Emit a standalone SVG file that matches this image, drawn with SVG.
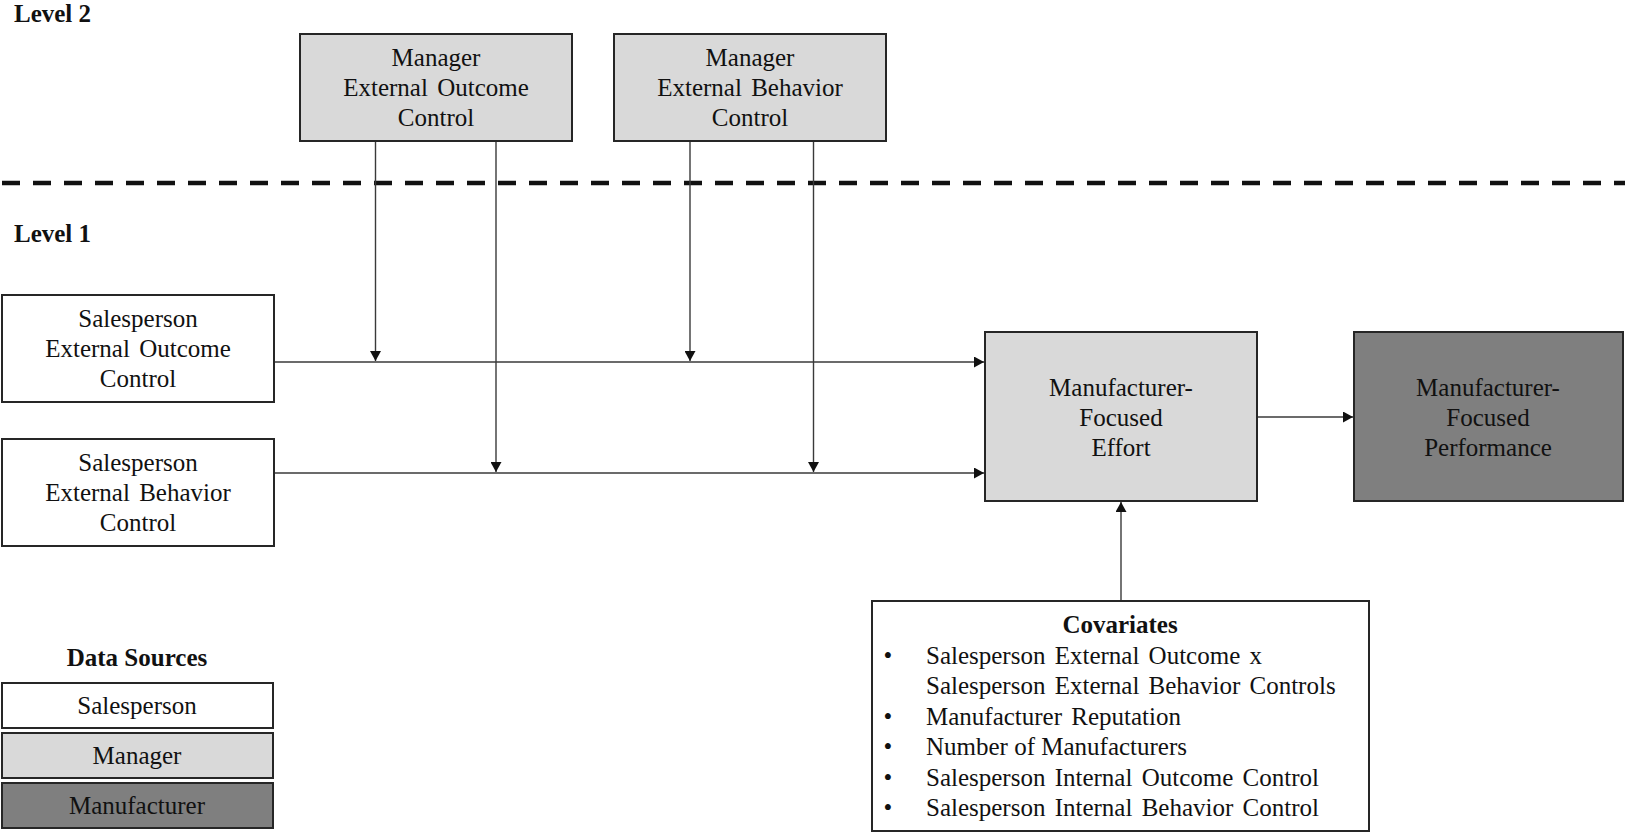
<svg xmlns="http://www.w3.org/2000/svg" width="1625" height="833" viewBox="0 0 1625 833">
<style>
text{font-family:"Liberation Serif","Times New Roman",serif;font-size:25px;fill:#111}
.b{font-weight:bold}
.c{text-anchor:middle}
.box{stroke:#262626;stroke-width:2}
.w{fill:#ffffff}
.g{fill:#d9d9d9}
.d{fill:#7f7f7f}
.con line{stroke:#3a3a3a;stroke-width:1.4;fill:none}
.ws{word-spacing:3px}
</style>
<defs>
<marker id="ah" markerUnits="userSpaceOnUse" markerWidth="11" markerHeight="11" refX="10" refY="5.5" orient="auto">
<path d="M0,0 L10,5.5 L0,11 z" fill="#111"/>
</marker>
</defs>
<rect width="1625" height="833" fill="#ffffff"/>

<text class="b" x="14" y="22">Level 2</text>
<text class="b" x="14" y="242">Level 1</text>
<line x1="2" y1="183" x2="1625" y2="183" stroke="#111" stroke-width="4.5" stroke-dasharray="18 13"/>

<g class="con">
<line x1="375.5" y1="141" x2="375.5" y2="361" marker-end="url(#ah)"/>
<line x1="496" y1="141" x2="496" y2="472" marker-end="url(#ah)"/>
<line x1="690" y1="141" x2="690" y2="361" marker-end="url(#ah)"/>
<line x1="813.5" y1="141" x2="813.5" y2="472" marker-end="url(#ah)"/>
<line x1="274" y1="362" x2="984" y2="362" marker-end="url(#ah)"/>
<line x1="274" y1="473" x2="984" y2="473" marker-end="url(#ah)"/>
<line x1="1258" y1="417" x2="1353" y2="417" marker-end="url(#ah)"/>
<line x1="1121" y1="601" x2="1121" y2="502" marker-end="url(#ah)"/>
</g>

<g id="mgr-outcome">
<rect class="box g" x="300" y="34" width="272" height="107"/>
<text class="c" x="436" y="66">Manager</text>
<text class="c ws" x="436" y="96">External Outcome</text>
<text class="c" x="436" y="126">Control</text>
</g>
<g id="mgr-behavior">
<rect class="box g" x="614" y="34" width="272" height="107"/>
<text class="c" x="750" y="66">Manager</text>
<text class="c ws" x="750" y="96">External Behavior</text>
<text class="c" x="750" y="126">Control</text>
</g>
<g id="sp-outcome">
<rect class="box w" x="2" y="295" width="272" height="107"/>
<text class="c" x="138" y="327">Salesperson</text>
<text class="c ws" x="138" y="357">External Outcome</text>
<text class="c" x="138" y="387">Control</text>
</g>
<g id="sp-behavior">
<rect class="box w" x="2" y="439" width="272" height="107"/>
<text class="c" x="138" y="471">Salesperson</text>
<text class="c ws" x="138" y="501">External Behavior</text>
<text class="c" x="138" y="531">Control</text>
</g>
<g id="effort">
<rect class="box g" x="985" y="332" width="272" height="169"/>
<text class="c" x="1121" y="396">Manufacturer-</text>
<text class="c" x="1121" y="426">Focused</text>
<text class="c" x="1121" y="456">Effort</text>
</g>
<g id="performance">
<rect class="box d" x="1354" y="332" width="269" height="169"/>
<text class="c" x="1488" y="396">Manufacturer-</text>
<text class="c" x="1488" y="426">Focused</text>
<text class="c" x="1488" y="456">Performance</text>
</g>
<g id="covariates">
<rect class="box w" x="872" y="601" width="497" height="230"/>
<text class="c b" x="1120" y="633">Covariates</text>
<text class="c" x="888" y="664">•</text>
<text class="ws" x="926" y="664">Salesperson External Outcome x</text>
<text class="ws" x="926" y="694">Salesperson External Behavior Controls</text>
<text class="c" x="888" y="725">•</text>
<text class="ws" x="926" y="725">Manufacturer Reputation</text>
<text class="c" x="888" y="755">•</text>
<text x="926" y="755">Number of Manufacturers</text>
<text class="c" x="888" y="786">•</text>
<text class="ws" x="926" y="786">Salesperson Internal Outcome Control</text>
<text class="c" x="888" y="816">•</text>
<text class="ws" x="926" y="816">Salesperson Internal Behavior Control</text>
</g>
<g id="legend">
<text class="c b" x="137" y="666">Data Sources</text>
<g id="legend-salesperson">
<rect class="box w" x="2" y="683" width="271" height="45"/>
<text class="c" x="137" y="714">Salesperson</text>
</g>
<g id="legend-manager">
<rect class="box g" x="2" y="733" width="271" height="45"/>
<text class="c" x="137" y="764">Manager</text>
</g>
<g id="legend-manufacturer">
<rect class="box d" x="2" y="783" width="271" height="45"/>
<text class="c" x="137" y="814">Manufacturer</text>
</g>
</g>
</svg>
